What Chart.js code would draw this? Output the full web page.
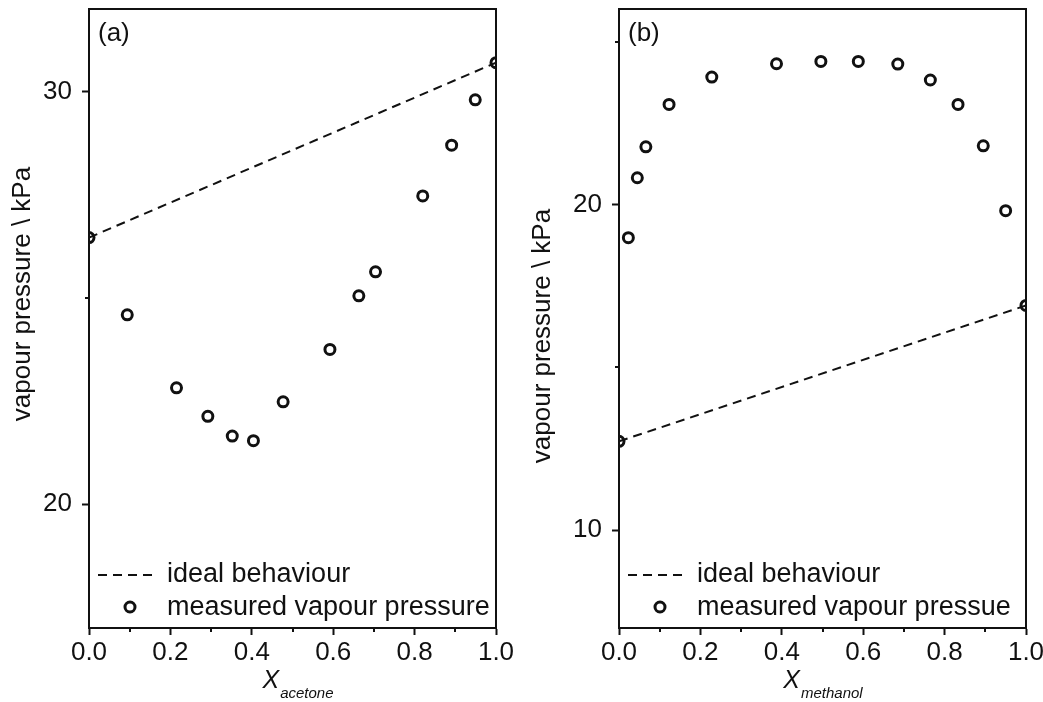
<!DOCTYPE html>
<html lang="en">
  <head>
    <meta charset="UTF-8" />
    <title>Vapour pressure</title>
    <script src="https://cdn.jsdelivr.net/npm/chart.js"></script>
    <style>
      body {
        margin: 0;
        background: #fff;
      }
      .wrap {
        position: relative;
        width: 1043px;
        height: 702px;
      }
      #chart-a {
        position: absolute;
        left: 0;
        top: 0;
      }
      #chart-b {
        position: absolute;
        left: 520px;
        top: 0;
      }
    </style>
  </head>
  <body>
    <div class="wrap">
      <canvas id="chart-a" width="520" height="702"></canvas>
      <canvas id="chart-b" width="523" height="702"></canvas>
    </div>

    <script>
      // (a) acetone mixture
      const xAcetone = [0.0, 0.094, 0.215, 0.292, 0.352, 0.404, 0.477, 0.592, 0.663, 0.704, 0.82, 0.891, 0.949, 1.0];
      const pAcetone = [26.46, 24.59, 22.82, 22.13, 21.65, 21.54, 22.48, 23.75, 25.05, 25.63, 27.47, 28.7, 29.8, 30.7];

      // (b) methanol mixture
      const xMethanol = [0.0, 0.023, 0.045, 0.066, 0.123, 0.228, 0.387, 0.496, 0.588, 0.685, 0.765, 0.833, 0.895, 0.95, 1.0];
      const pMethanol = [12.73, 18.98, 20.82, 21.77, 23.07, 23.91, 24.32, 24.39, 24.39, 24.31, 23.82, 23.07, 21.8, 19.81, 16.9];

      // ideal (Raoult) lines between the pure components
      const xIdeal = [0, 1];
      const idealAcetone = [26.46, 30.7];
      const idealMethanol = [12.73, 16.9];

      // axes
      const xMajor = [0, 0.2, 0.4, 0.6, 0.8, 1.0];
      const xMinor = [0.1, 0.3, 0.5, 0.7, 0.9];
      const yMajorA = [20, 30];
      const yMinorA = [25];
      const yMajorB = [10, 20];
      const yMinorB = [15, 25];

      const ink = "#111";
      const family = "'Liberation Sans', Arial, sans-serif";

      const toPoints = (xs, ys) => xs.map((x, i) => ({ x: x, y: ys[i] }));

      // frame, minor ticks, axis titles, panel label and legend
      const panelDecor = {
        id: "panelDecor",
        afterDatasetsDraw(chart, args, opts) {
          const ctx = chart.ctx;
          const a = chart.chartArea;
          const xs = chart.scales.x;
          const ys = chart.scales.y;
          ctx.save();

          ctx.strokeStyle = ink;
          ctx.lineWidth = 2;
          ctx.strokeRect(a.left, a.top, a.right - a.left, a.bottom - a.top);

          ctx.beginPath();
          opts.xMinor.forEach((v) => {
            const px = Math.round(xs.getPixelForValue(v));
            ctx.moveTo(px, a.bottom);
            ctx.lineTo(px, a.bottom + 4);
          });
          opts.yMinor.forEach((v) => {
            const py = Math.round(ys.getPixelForValue(v));
            ctx.moveTo(a.left, py);
            ctx.lineTo(a.left - 4, py);
          });
          ctx.stroke();

          ctx.fillStyle = ink;

          // panel label
          ctx.font = "26px " + family;
          ctx.textAlign = "left";
          ctx.textBaseline = "alphabetic";
          ctx.fillText(opts.label, a.left + 9, 41);

          // y title
          ctx.save();
          ctx.translate(30, opts.yTitleY);
          ctx.rotate(-Math.PI / 2);
          ctx.textAlign = "center";
          ctx.fillText("vapour pressure \\ kPa", 0, 0);
          ctx.restore();

          // x title: X with subscript
          ctx.font = "italic 25px " + family;
          const wX = ctx.measureText("X").width;
          ctx.font = "italic 15px " + family;
          const wSub = ctx.measureText(opts.xSub).width;
          const x0 = (a.left + a.right) / 2 - (wX + wSub) / 2 + opts.xTitleShift;
          ctx.font = "italic 25px " + family;
          ctx.fillText("X", x0, 688);
          ctx.font = "italic 15px " + family;
          ctx.fillText(opts.xSub, x0 + wX + 1, 698);

          // legend
          const ideal = chart.data.datasets[0];
          const meas = chart.data.datasets[1];
          ctx.strokeStyle = ideal.borderColor;
          ctx.lineWidth = ideal.borderWidth;
          ctx.setLineDash(ideal.borderDash);
          ctx.beginPath();
          ctx.moveTo(a.left + 9, a.bottom - 53);
          ctx.lineTo(a.left + 64, a.bottom - 53);
          ctx.stroke();
          ctx.setLineDash([]);

          ctx.strokeStyle = meas.borderColor;
          ctx.lineWidth = meas.borderWidth;
          ctx.beginPath();
          ctx.arc(a.left + 41, a.bottom - 21, meas.pointRadius, 0, Math.PI * 2);
          ctx.stroke();

          ctx.font = "27px " + family;
          ctx.fillText(opts.legend[0], a.left + 78, a.bottom - 46);
          ctx.fillText(opts.legend[1], a.left + 78, a.bottom - 13);

          ctx.restore();
        },
      };

      function makeChart(id, cfg) {
        const ctx = document.getElementById(id).getContext("2d");
        return new Chart(ctx, {
          type: "scatter",
          data: {
            datasets: [
              {
                label: cfg.legend[0],
                data: toPoints(xIdeal, cfg.ideal),
                showLine: true,
                borderColor: ink,
                borderWidth: 2,
                borderDash: [9, 6],
                pointRadius: 0,
                clip: 0,
              },
              {
                label: cfg.legend[1],
                data: toPoints(cfg.x, cfg.p),
                showLine: false,
                borderColor: ink,
                backgroundColor: "rgba(0,0,0,0)",
                borderWidth: 3,
                pointRadius: 5,
                clip: 1,
              },
            ],
          },
          options: {
            responsive: false,
            animation: false,
            devicePixelRatio: 1,
            layout: {
              autoPadding: false,
              padding: { top: 9, right: cfg.padRight, left: 0, bottom: 0 },
            },
            scales: {
              x: {
                type: "linear",
                min: 0,
                max: 1,
                afterBuildTicks: (s) => {
                  s.ticks = xMajor.map((value) => ({ value }));
                },
                afterFit: (s) => {
                  s.height = 74;
                  s.paddingLeft = 0;
                  s.paddingRight = 0;
                },
                grid: { drawOnChartArea: false, drawTicks: true, tickLength: 7, tickWidth: 2, tickColor: ink },
                border: { display: true, color: ink, width: 2 },
                ticks: {
                  color: ink,
                  font: { family: family, size: 26 },
                  padding: 2,
                  maxRotation: 0,
                  autoSkip: false,
                  callback: (v) => Number(v).toFixed(1),
                },
              },
              y: {
                type: "linear",
                min: cfg.yMin,
                max: cfg.yMax,
                afterBuildTicks: (s) => {
                  s.ticks = cfg.yMajor.map((value) => ({ value }));
                },
                afterFit: (s) => {
                  s.width = cfg.yWidth;
                  s.paddingTop = 0;
                  s.paddingBottom = 0;
                },
                grid: { drawOnChartArea: false, drawTicks: true, tickLength: 7, tickWidth: 2, tickColor: ink },
                border: { display: true, color: ink, width: 2 },
                ticks: {
                  color: ink,
                  font: { family: family, size: 26 },
                  padding: 10,
                  callback: (v) => String(v),
                },
              },
            },
            plugins: {
              legend: { display: false },
              tooltip: { enabled: false },
              panelDecor: {
                label: cfg.label,
                xSub: cfg.xSub,
                xTitleShift: cfg.xTitleShift,
                yTitleY: cfg.yTitleY,
                legend: cfg.legend,
                xMinor: xMinor,
                yMinor: cfg.yMinor,
              },
            },
          },
          plugins: [panelDecor],
        });
      }

      makeChart("chart-a", {
        label: "(a)",
        x: xAcetone,
        p: pAcetone,
        ideal: idealAcetone,
        yMin: 17,
        yMax: 32,
        yMajor: yMajorA,
        yMinor: yMinorA,
        yWidth: 89,
        padRight: 24,
        xSub: "acetone",
        xTitleShift: 5,
        yTitleY: 294,
        legend: ["ideal behaviour", "measured vapour pressure"],
      });

      makeChart("chart-b", {
        label: "(b)",
        x: xMethanol,
        p: pMethanol,
        ideal: idealMethanol,
        yMin: 7,
        yMax: 26,
        yMajor: yMajorB,
        yMinor: yMinorB,
        yWidth: 99,
        padRight: 17,
        xSub: "methanol",
        xTitleShift: 0,
        yTitleY: 336,
        legend: ["ideal behaviour", "measured vapour pressue"],
      });
    </script>
  </body>
</html>
